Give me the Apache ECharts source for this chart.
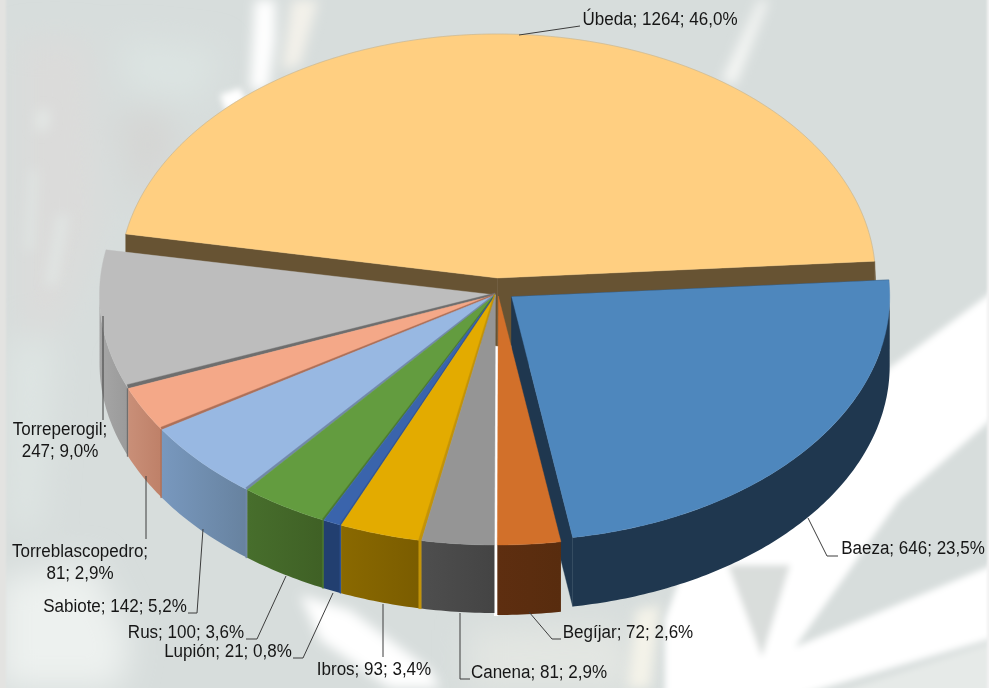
<!DOCTYPE html>
<html>
<head>
<meta charset="utf-8">
<style>
html,body{margin:0;padding:0;width:989px;height:688px;overflow:hidden;background:#d8dedd}
#bg{position:absolute;left:0;top:0}
#chart{position:absolute;left:0;top:0;width:989px;height:688px}
</style>
<script src="https://cdn.jsdelivr.net/npm/echarts@6/dist/echarts.min.js"></script>
</head>
<body>
<svg id="bg" width="989" height="688" viewBox="0 0 989 688">
  <defs>
    <filter id="b14" filterUnits="userSpaceOnUse" x="-60" y="-60" width="1110" height="810"><feGaussianBlur stdDeviation="16"/></filter>
    <filter id="b6" filterUnits="userSpaceOnUse" x="-60" y="-60" width="1110" height="810"><feGaussianBlur stdDeviation="6"/></filter>
    <filter id="b3" filterUnits="userSpaceOnUse" x="-60" y="-60" width="1110" height="810"><feGaussianBlur stdDeviation="3"/></filter>
    <filter id="b1" filterUnits="userSpaceOnUse" x="-60" y="-60" width="1110" height="810"><feGaussianBlur stdDeviation="0.8"/></filter>
  </defs>
  <rect width="989" height="688" fill="#d7dddc"/>
  <g filter="url(#b14)">
    <polygon points="20,40 90,40 100,220 60,330 20,330" fill="#dbdbda"/>
    <polygon points="120,40 220,50 200,100 130,90" fill="#dce4e2"/>
    <polygon points="115,115 165,110 180,150 135,210" fill="#d5d6d4"/>
    <polygon points="10,340 55,340 40,530 10,530" fill="#dee5e3"/>
    <polygon points="0,580 90,560 130,640 120,688 0,688" fill="#edf1ef"/>
    <polygon points="470,630 620,625 640,688 470,688" fill="#e3e6e2"/>
  </g>
  <g filter="url(#b6)">
    <polygon points="37,110 50,110 48,130 35,130" fill="#e3e7e5"/>
    <polygon points="31,170 37,170 32,250 26,250" fill="#e1e7e5"/>
    <polygon points="58,215 68,215 56,285 46,285" fill="#e1e6e4"/>
    <polygon points="292,0 318,0 300,65 282,70" fill="#f3f1ea"/>
    <polygon points="255,0 275,0 275,40 268,90 250,90" fill="#ffffff"/>
    <polygon points="300,595 350,610 430,670 440,688 390,688 320,640" fill="#ffffff"/>
    <polygon points="636,610 660,605 650,688 628,688" fill="#f4f3e9"/>
    <polygon points="760,0 768,0 745,60 735,85 722,80" fill="#f7f8f6"/>
  </g>
  <g filter="url(#b3)">
    <polygon points="220,95 240,88 246,100 226,112" fill="#ffffff"/>
    <polygon points="1000,286 880,375 780,480 690,550 665,620 665,700 760,700 793,650 899,500 1000,412" fill="#ffffff"/>
    <polygon points="793,648 1000,562 1000,636 800,695 750,700" fill="#ffffff"/>
    <polygon points="728,565 790,565 762,657" fill="#d9dddb"/>
    <polygon points="840,692 1000,640 1000,700 830,700" fill="#e6eae8"/>
  </g>
  <g filter="url(#b1)">
    <rect x="-3" y="-10" width="9" height="708" fill="#e3e3e1"/>
    <rect x="987" y="-10" width="5" height="708" fill="#f2f2f2"/>
  </g>
  <rect x="494" y="340" width="4.2" height="276" fill="#ffffff"/>
</svg>
<div id="chart"></div>
<script>
// ---- data ----
const categories = ['Úbeda','Baeza','Begíjar','Canena','Ibros','Lupión','Rus','Sabiote','Torreblascopedro','Torreperogil'];
const values = [1264,646,72,81,93,21,100,142,81,247];

// ---- appearance ----
const topColors  = ['#FFCF81','#4E87BD','#D2702A','#959595','#E3AB00','#3A64AC','#639C3F','#98B8E2','#F4A888','#BDBDBD'];
const wallColors = [['#675333','#675333'],['#1F374F','#1F374F'],['#5E2E10','#582C0E'],['#4E4E4E','#444444'],['#8A6900','#7A5C00'],['#223F70','#223F70'],['#476E2C','#3F6025'],['#7898BE','#67829F'],['#C98F78','#BE8068'],['#A6A6A6','#9A9A9A']];
const edgeColors = ['#675333','#1F374F',null,null,'#C39308','#2F5494','#4C7A30','#7289A8','#AD7058','#6E6E6E'];
const edgeWidths = [0,0,0,0,3,1.5,1.8,2.6,2.6,4];
// drawn back to front
const drawOrder = [0,1,2,9,8,7,6,5,4,3];
// slice geometry: centre x, centre y, radius x, radius y, wall height
const geometry = {
  0:[497.5,278,378,244,68],
  1:[511.7,296.7,378,244,69],
  2:[498.3,296,388,249,70]
};
const mainGeometry = [495.5,295,396,250,68];
const firstAngle = -79.6;

// ---- labels ----
const labelCentres = [[660,20],[913,549],[628,633],[539,673],[374,670],[228,652],[186,633],[115,607],[80,563],[60,441]];
const leaders = [
  [[519,35],[580,26]],
  [[808,518],[827,556],[838,556]],
  [[529,612],[552,639],[561,639]],
  [[460,613],[460,679],[470,679]],
  [[383,604],[383,657]],
  [[333,593],[303,658],[293,658]],
  [[286,576],[257,639],[246,639]],
  [[203,529],[197,613],[188,613]],
  [[146,476],[146,539]],
  [[103,316],[103,420]]
];
const labelBreak = {8:true, 9:true};

const total = values.reduce((a,b)=>a+b,0);
const rad = Math.PI/180;
const spans = [];
(function(){ let acc = firstAngle;
  values.forEach(v=>{ const s = v/total*360; spans.push([acc,acc+s]); acc+=s; });
})();

function rim(g,aDeg){ const a=aDeg*rad; return [g[0]+g[2]*Math.sin(a), g[1]-g[3]*Math.cos(a)]; }
function arc(g,a0,a1){ const pts=[]; const n=Math.max(2,Math.ceil(Math.abs(a1-a0)/0.75));
  for(let i=0;i<=n;i++) pts.push(rim(g,a0+(a1-a0)*i/n)); return pts; }
function down(p,h){ return [p[0],p[1]+h]; }
function grad(c){ return new echarts.graphic.LinearGradient(0,0,1,0,[{offset:0,color:c[0]},{offset:1,color:c[1]}]); }

function renderSlice(params,api){
  const i = api.value(0);
  const order = drawOrder.indexOf(i);
  const g = geometry[i] || mainGeometry;
  const H = g[4];
  const a0 = spans[i][0], a1 = spans[i][1];
  const apex = [g[0],g[1]];
  const children = [];
  const add = (pts,fill,sub)=>children.push({type:'polygon',z2:order*10+sub,silent:true,shape:{points:pts},style:{fill:fill,stroke:typeof fill==='string'?fill:null,lineWidth:typeof fill==='string'?0.4:0}});
  // inner faces
  if(i===0||i===1){
    [a0,a1].forEach(a=>{ const r=rim(g,a); add([apex,r,down(r,H),down(apex,H)],edgeColors[i],0); });
  }
  // outer wall: the part of the rim that faces the viewer
  const wa0 = Math.max(a0,90), wa1 = Math.min(a1,270);
  if(wa1>wa0){
    const top = arc(g,wa0,wa1);
    add(top.concat(top.slice().reverse().map(p=>down(p,H))),grad(wallColors[i]),1);
  }
  if(i===0){
    const r=rim(g,a1), e=rim(g,90);
    add([r,e,down(e,H),down(r,H)],edgeColors[i],1);
  }
  // top face
  add([apex].concat(arc(g,a0,a1)),topColors[i],2);
  // visible edge of the cut along the start of the slice
  const w = edgeWidths[i];
  if(w>0 && i>1){
    const r=rim(g,a0);
    const dx=r[0]-apex[0], dy=r[1]-apex[1], len=Math.hypot(dx,dy);
    const nx=-dy/len, ny=dx/len;
    const mid=rim(g,a0+1);
    const sign=((mid[0]-r[0])*nx+(mid[1]-r[1])*ny)>0?1:-1;
    const o=[r[0]+sign*nx*w,r[1]+sign*ny*w];
    const ao=[apex[0]+sign*nx*w*0.5,apex[1]+sign*ny*w*0.5];
    add([apex,r,o,ao],edgeColors[i],3);
    const inner=Math.abs(o[0]-r[0])<1.2?(o[0]<r[0]?r[0]-1.2:r[0]+1.2):o[0];
    add([r,[inner,r[1]],[inner,r[1]+H],down(r,H)],edgeColors[i],3);
  }
  if(i===0){
    children.push({type:'polyline',z2:order*10+3,silent:true,shape:{points:arc(g,a0,a1)},style:{fill:null,stroke:'#b3ac98',lineWidth:0.5}});
  }
  return {type:'group',children};
}

function pct(v){ return (v/total*100).toFixed(1).replace('.',',')+'%'; }
function renderLabel(params,api){
  const i = api.value(0);
  const v = values[i];
  const sep = labelBreak[i] ? ';\n' : '; ';
  const c = labelCentres[i];
  return {type:'group',children:[
    {type:'polyline',silent:true,z2:200,shape:{points:leaders[i]},style:{fill:null,stroke:'#3c3c3c',lineWidth:1}},
    {type:'text',silent:true,z2:201,x:c[0],y:c[1],scaleX:0.945,style:{
      text:categories[i]+sep+v+'; '+pct(v),
      fill:'#161616',font:'18px "Liberation Sans"',
      align:'center',verticalAlign:'middle',lineHeight:22}}
  ]};
}

const rows = values.map((v,i)=>[i,v]);
const chart = echarts.init(document.getElementById('chart'),null,{renderer:'canvas',width:989,height:688});
chart.setOption({
  backgroundColor:'transparent',
  animation:false,
  tooltip:{show:false},
  series:[
    {type:'custom',coordinateSystem:'none',data:rows,renderItem:renderSlice,z:2,silent:true},
    {type:'custom',coordinateSystem:'none',data:rows,renderItem:renderLabel,z:3,silent:true}
  ]
});
</script>
</body>
</html>
